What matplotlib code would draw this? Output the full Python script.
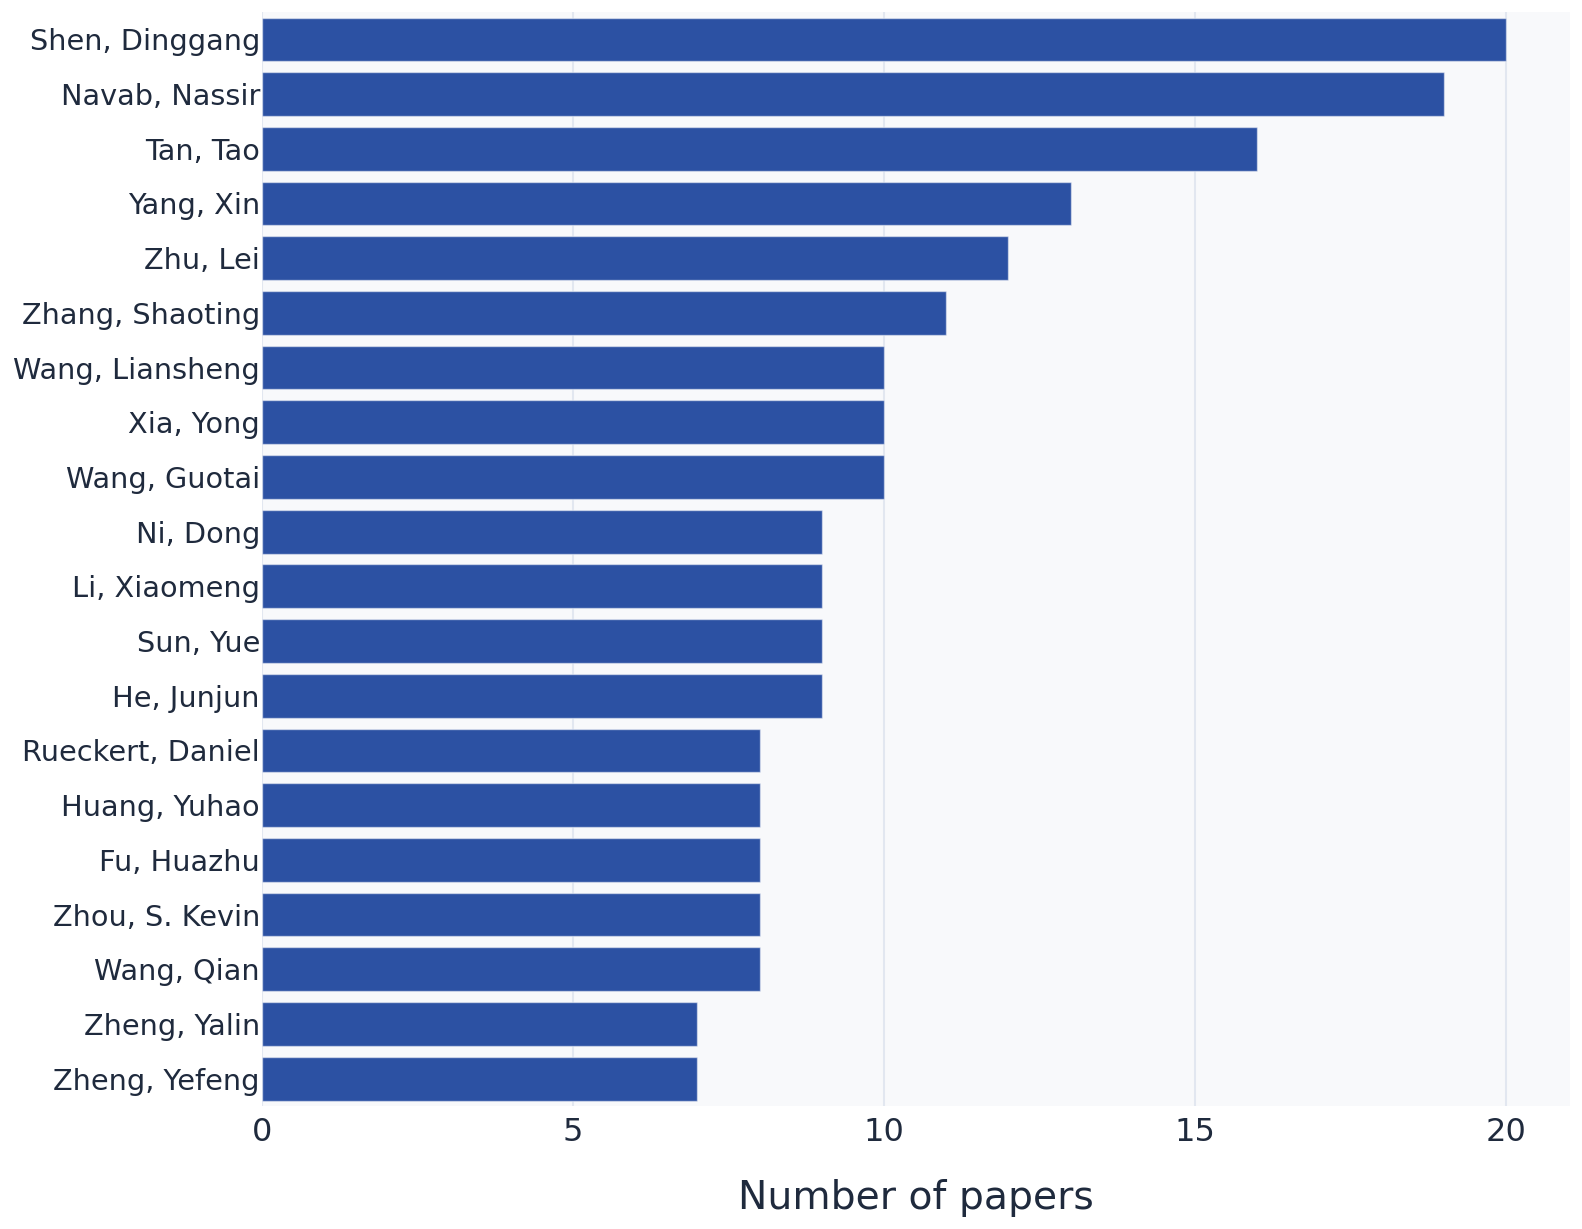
import numpy as np
import matplotlib.pyplot as plt

# top authors by paper count
authors = ['Shen, Dinggang', 'Navab, Nassir', 'Tan, Tao', 'Yang, Xin', 'Zhu, Lei',
           'Zhang, Shaoting', 'Wang, Liansheng', 'Xia, Yong', 'Wang, Guotai', 'Ni, Dong',
           'Li, Xiaomeng', 'Sun, Yue', 'He, Junjun', 'Rueckert, Daniel', 'Huang, Yuhao',
           'Fu, Huazhu', 'Zhou, S. Kevin', 'Wang, Qian', 'Zheng, Yalin', 'Zheng, Yefeng']
papers = [20, 19, 16, 13, 12, 11, 10, 10, 10, 9, 9, 9, 9, 8, 8, 8, 8, 8, 7, 7]

text_color = '#1f2a3d'
bar_color = '#2c51a3'

fig = plt.figure(figsize=(15.82, 12.29), dpi=100)
ax = fig.add_axes([0.1656, 0.1001, 0.8268, 0.8901])
ax.set_facecolor('#f8f9fb')

y = np.arange(len(authors))
ax.barh(y, papers, height=0.8, color=bar_color,
        edgecolor=(1, 1, 1, 0.5), linewidth=1.0, zorder=2)

ax.set_yticks(y)
ax.set_yticklabels(authors, fontsize=20.7, color=text_color)
ax.set_ylim(len(authors) - 0.5, -0.5)
ax.set_xlim(0, 21.03)
ax.set_xticks([0, 5, 10, 15, 20])
ax.tick_params(axis='x', labelsize=23, colors=text_color, length=0, pad=8)
ax.tick_params(axis='y', length=0, pad=1.5)
ax.set_xlabel('Number of papers', fontsize=28.3, color=text_color, labelpad=22)

ax.grid(axis='x', color='#e2e7f0', linewidth=1.5, zorder=0)
ax.set_axisbelow(True)
for s in ax.spines.values():
    s.set_visible(False)

fig.savefig('out.png', dpi=100)
